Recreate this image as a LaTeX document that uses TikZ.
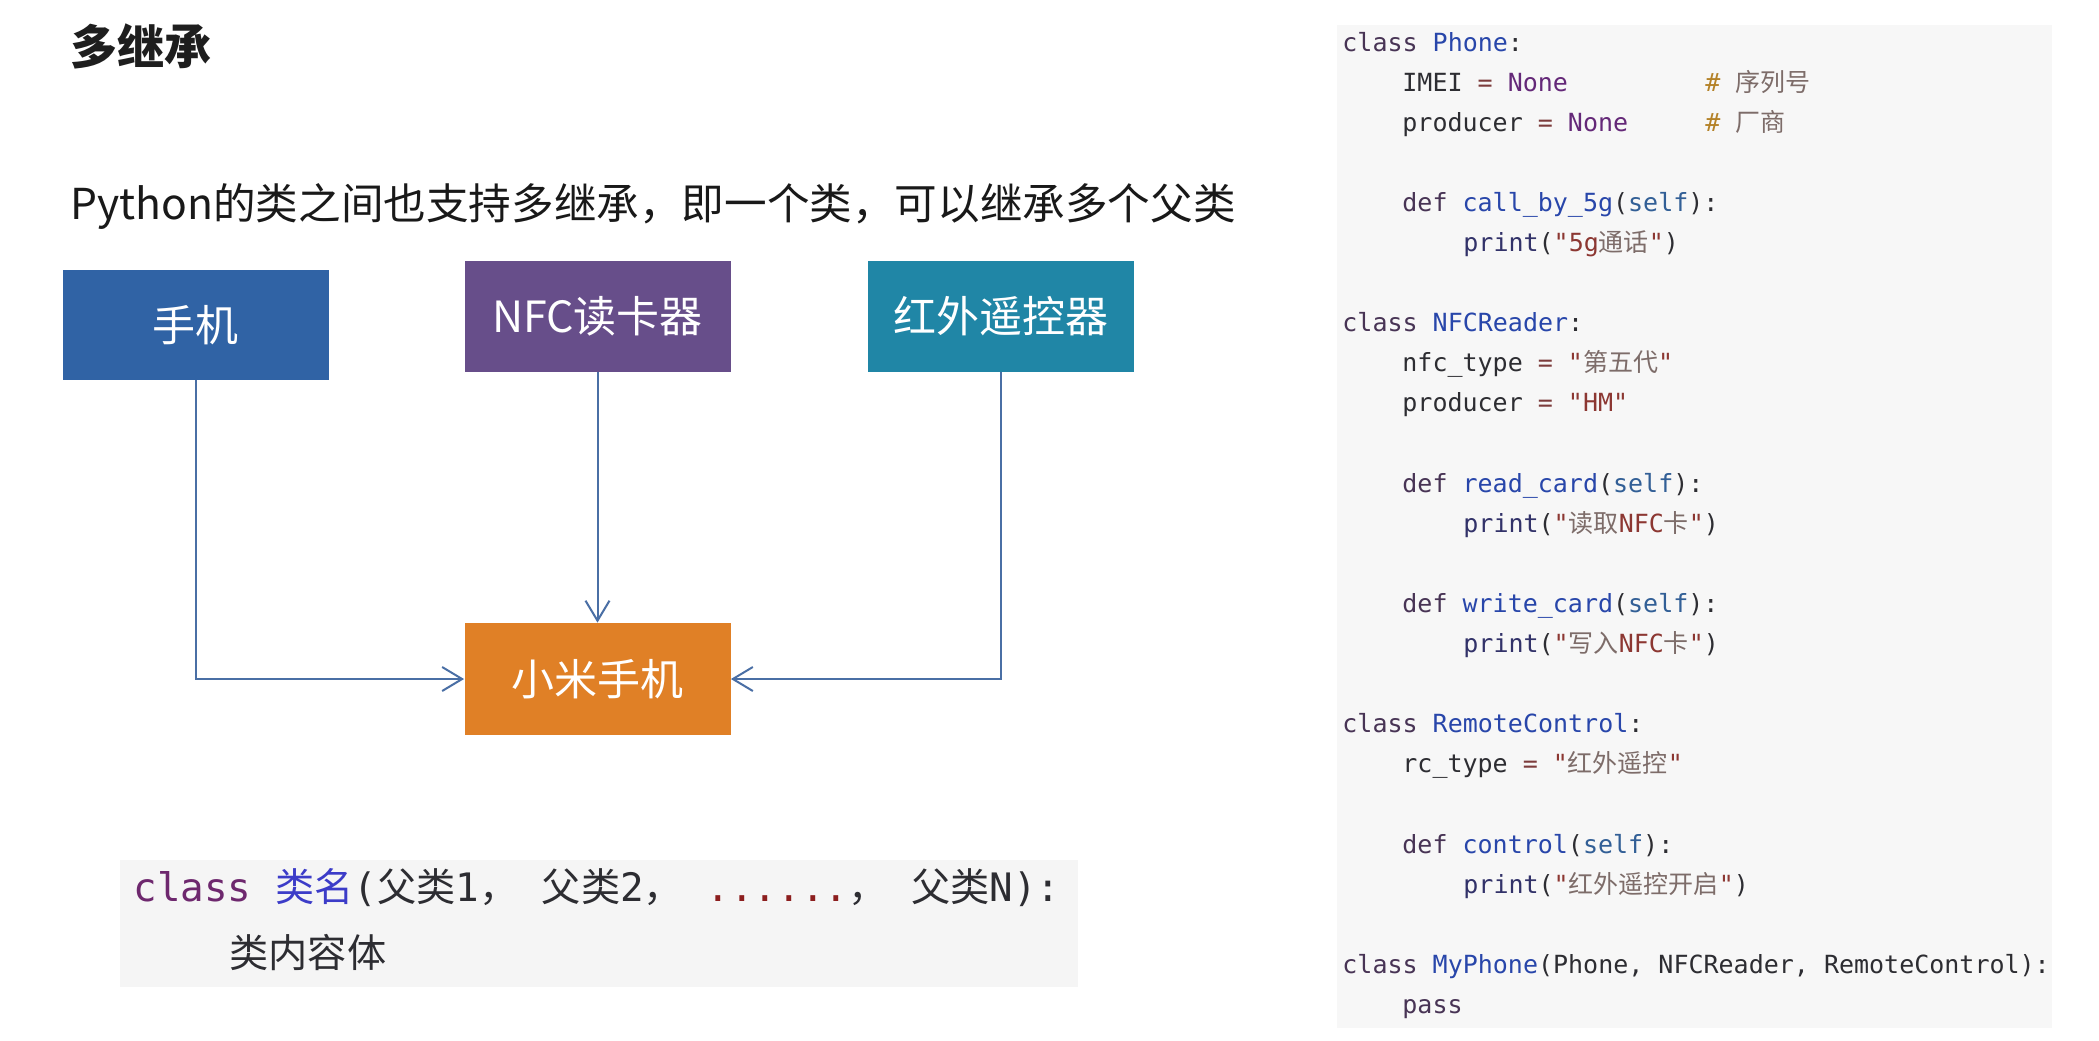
\documentclass[tikz,border=0pt]{standalone}
\usepackage{fontspec}
\setmainfont{Noto Sans CJK SC}
\newfontfamily\cjk{Noto Sans CJK SC}
\newfontfamily\mono{DejaVu Sans Mono}
\usetikzlibrary{arrows.meta}
\definecolor{cshouji}{RGB}{48,99,165}
\definecolor{cnfc}{RGB}{103,78,138}
\definecolor{chw}{RGB}{32,134,166}
\definecolor{cxm}{RGB}{224,128,38}
\definecolor{connc}{RGB}{74,111,165}
\definecolor{panelbg}{RGB}{247,247,247}
\definecolor{codebg}{RGB}{245,245,245}
\definecolor{codefg}{RGB}{45,45,50}
\definecolor{kw}{RGB}{72,52,85}
\definecolor{nm}{RGB}{40,70,170}
\definecolor{nn}{RGB}{100,40,120}
\definecolor{sf}{RGB}{50,95,150}
\definecolor{st}{RGB}{140,55,50}
\definecolor{stc}{RGB}{125,108,105}
\definecolor{eqc}{RGB}{125,60,60}
\definecolor{cm}{RGB}{180,130,40}
\definecolor{pr}{RGB}{50,50,105}
\definecolor{lkw}{RGB}{110,40,110}
\definecolor{lnm}{RGB}{60,60,200}
\definecolor{ldot}{RGB}{140,30,30}
\newcommand{\kw}[1]{{\color{kw}#1}}
\newcommand{\nm}[1]{{\color{nm}#1}}
\newcommand{\nn}[1]{{\color{nn}#1}}
\newcommand{\sfx}{{\color{sf}self}}
\newcommand{\st}[1]{{\color{st}#1}}
\newcommand{\stc}[1]{{\cjk\color{stc}#1}}
\newcommand{\eqx}{{\color{eqc}=}}
\newcommand{\prx}{{\color{pr}print}}
\begin{document}
\begin{tikzpicture}[x=0.5pt,y=-0.5pt,
  box/.style={minimum width=133pt, minimum height=55.5pt, inner sep=0pt, text=white, font=\fontsize{21.5}{26}\selectfont},
  conn/.style={draw=connc, line width=1pt, -{Straight Barb[length=10pt,width=12pt]}},
  code/.style={anchor=base west, inner sep=0pt, text=codefg, font=\mono\fontsize{12.5}{15}\selectfont},
  lcode/.style={anchor=base west, inner sep=0pt, text=codefg, font=\mono\fontsize{19.6}{24}\selectfont}]
\fill[white] (0,0) rectangle (2099,1040);
\path[use as bounding box] (0,0) rectangle (2099,1040);
% backgrounds
\fill[panelbg] (1337,25) rectangle (2052,1028);
\fill[codebg] (120,860) rectangle (1078,987);
% title and subtitle
\node[anchor=base west, inner sep=0pt, text={rgb,255:red,30;green,30;blue,30}, font=\bfseries\fontsize{23.5}{28}\selectfont] (title) at (70,64) {多继承};
\node[anchor=base west, inner sep=0pt, text={rgb,255:red,25;green,25;blue,25}, font=\fontsize{21.3}{26}\selectfont] (subtitle) at (70,219) {Python的类之间也支持多继承，即一个类，可以继承多个父类};
% boxes
\node[box, fill=cshouji, minimum height=55pt] (shouji) at (195.5,325) {手机};
\node[box, fill=cnfc] (nfc) at (597.5,316.5) {NFC读卡器};
\node[box, fill=chw] (hongwai) at (1000.5,316.5) {红外遥控器};
\node[box, fill=cxm, minimum height=56pt] (xiaomi) at (597.5,679) {小米手机};
% connectors
\draw[conn] (shouji.south) |- (xiaomi.west);
\draw[conn] (nfc.south) -- (xiaomi.north);
\draw[conn] (hongwai.south) |- (xiaomi.east);
% left code
\node[lcode] (lc1) at (133,901) {{\color{lkw}class} {\cjk\color{lnm}类名}({\cjk 父类}1{\cjk ，} {\cjk 父类}2{\cjk ，} {\color{ldot}......}{\cjk ，} {\cjk 父类}N):};
\node[lcode] (lc2) at (229,967) {{\cjk 类内容体}};
% right code
\node[code] (r1) at (1342,51) {\kw{class} \nm{Phone}:};
\node[code] (r2) at (1402,91.1) {IMEI \eqx{} \nn{None}};
\node[code] (c2) at (1705,91.1) {{\color{cm}\#} \stc{序列号}};
\node[code] (r3) at (1402,131.2) {producer \eqx{} \nn{None}};
\node[code] (c3) at (1705,131.2) {{\color{cm}\#} \stc{厂商}};
\node[code] (r5) at (1402,211.4) {\kw{def} \nm{call\_by\_5g}(\sfx):};
\node[code] (r6) at (1463,251.5) {\prx(\st{"5g}\stc{通话}\st{"})};
\node[code] (r8) at (1342,331.7) {\kw{class} \nm{NFCReader}:};
\node[code] (r9) at (1402,371.8) {nfc\_type \eqx{} \st{"}\stc{第五代}\st{"}};
\node[code] (r10) at (1402,411.9) {producer \eqx{} \st{"HM"}};
\node[code] (r12) at (1402,492.1) {\kw{def} \nm{read\_card}(\sfx):};
\node[code] (r13) at (1463,532.2) {\prx(\st{"}\stc{读取}\st{NFC}\stc{卡}\st{"})};
\node[code] (r15) at (1402,612.4) {\kw{def} \nm{write\_card}(\sfx):};
\node[code] (r16) at (1463,652.5) {\prx(\st{"}\stc{写入}\st{NFC}\stc{卡}\st{"})};
\node[code] (r18) at (1342,732.7) {\kw{class} \nm{RemoteControl}:};
\node[code] (r19) at (1402,772.8) {rc\_type \eqx{} \st{"}\stc{红外遥控}\st{"}};
\node[code] (r21) at (1402,853.0) {\kw{def} \nm{control}(\sfx):};
\node[code] (r22) at (1463,893.1) {\prx(\st{"}\stc{红外遥控开启}\st{"})};
\node[code] (r24) at (1342,973.3) {\kw{class} \nm{MyPhone}(Phone, NFCReader, RemoteControl):};
\node[code] (r25) at (1402,1013.4) {\kw{pass}};
\end{tikzpicture}
\end{document}
